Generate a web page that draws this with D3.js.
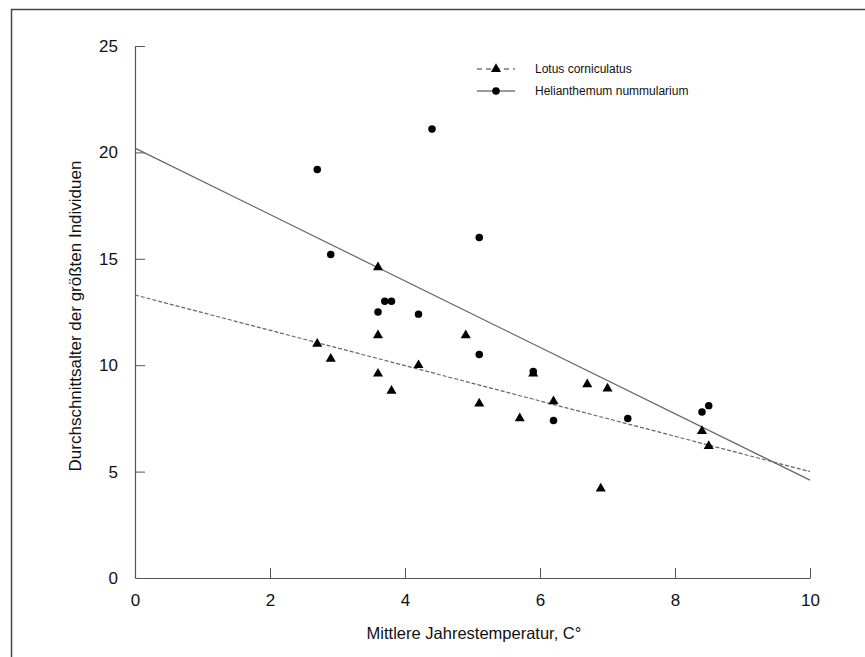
<!DOCTYPE html>
<html><head><meta charset="utf-8">
<script src="https://cdn.jsdelivr.net/npm/d3@7"></script>
<style>
html,body{margin:0;padding:0;background:#fff;}
svg{display:block;font-family:"Liberation Sans",Arial,sans-serif;}
</style></head>
<body><svg id="c" width="865" height="657"></svg>
<script>
// Data
const lotusX = [2.7, 2.9, 3.6, 3.6, 3.6, 3.8, 4.2, 4.9, 5.1, 5.7, 5.9, 6.2, 6.7, 6.9, 7.0, 8.4, 8.5];
const lotusY = [11.0, 10.3, 14.6, 11.4, 9.6, 8.8, 10.0, 11.4, 8.2, 7.5, 9.6, 8.3, 9.1, 4.2, 8.9, 6.9, 6.2];
const heliX = [2.7, 2.9, 3.6, 3.7, 3.8, 4.2, 4.4, 5.1, 5.1, 5.9, 6.2, 7.3, 8.4, 8.5];
const heliY = [19.2, 15.2, 12.5, 13.0, 13.0, 12.4, 21.1, 16.0, 10.5, 9.7, 7.4, 7.5, 7.8, 8.1];
const fitX = [0, 10];
const lotusFit = [13.3, 5.0];
const heliFit = [20.2, 4.6];
const xTicks = [0, 2, 4, 6, 8, 10];
const yTicks = [0, 5, 10, 15, 20, 25];
const seriesNames = ["Lotus corniculatus", "Helianthemum nummularium"];
const xTitle = "Mittlere Jahrestemperatur, C°";
const yTitle = "Durchschnittsalter der größten Individuen";

const svg = d3.select("#c");
// outer frame (extends beyond right/bottom)
svg.append("rect").attr("x", 11.5).attr("y", 9.5).attr("width", 900).attr("height", 700)
  .attr("fill", "none").attr("stroke", "#444").attr("stroke-width", 1.5);

const x = d3.scaleLinear().domain([0, 10]).range([135, 810]);
const y = d3.scaleLinear().domain([0, 25]).range([578, 46]);
const axisCol = "#555";

const gx = svg.append("g").attr("transform", "translate(0,578)")
  .call(d3.axisBottom(x).tickValues(xTicks).tickFormat(d3.format("d")).tickSizeInner(-10).tickSizeOuter(0).tickPadding(16));
const gy = svg.append("g").attr("transform", "translate(135,0)")
  .call(d3.axisLeft(y).tickValues(yTicks).tickFormat(d3.format("d")).tickSizeInner(-10).tickSizeOuter(0).tickPadding(17));
[gx, gy].forEach(g => {
  g.select(".domain").attr("stroke", axisCol).attr("stroke-width", 1.2);
  g.selectAll(".tick line").attr("stroke", axisCol).attr("stroke-width", 1);
  g.selectAll(".tick text").attr("fill", "#111").attr("font-size", 17).attr("font-family", "'Liberation Sans',Arial,sans-serif");
});
gx.selectAll(".tick").filter(d => d === 0).select("line").remove();
gy.selectAll(".tick").filter(d => d === 0).select("line").remove();

svg.append("text").attr("x", 474).attr("y", 639).attr("text-anchor", "middle")
  .attr("font-size", 16.5).attr("fill", "#111").text(xTitle);
svg.append("text").attr("transform", "translate(81,316) rotate(-90)").attr("text-anchor", "middle")
  .attr("font-size", 17).attr("fill", "#111").text(yTitle);

// fit lines
const line = d3.line().x(d => x(d[0])).y(d => y(d[1]));
svg.append("path").datum(fitX.map((v, i) => [v, lotusFit[i]])).attr("d", line)
  .attr("fill", "none").attr("stroke", "#666").attr("stroke-width", 1.2).attr("stroke-dasharray", "4,2");
svg.append("path").datum(fitX.map((v, i) => [v, heliFit[i]])).attr("d", line)
  .attr("fill", "none").attr("stroke", "#666").attr("stroke-width", 1.2);

const tri = d3.symbol().type(d3.symbolTriangle).size(44);
const circ = d3.symbol().type(d3.symbolCircle).size(44);

svg.append("g").selectAll("path").data(heliX.map((v, i) => [v, heliY[i]])).join("path")
  .attr("d", circ).attr("transform", d => `translate(${x(d[0])},${y(d[1])})`).attr("fill", "#000");
svg.append("g").selectAll("path").data(lotusX.map((v, i) => [v, lotusY[i]])).join("path")
  .attr("d", tri).attr("transform", d => `translate(${x(d[0])},${y(d[1])})`).attr("fill", "#000");

// legend
const leg = svg.append("g");
const rows = [{name: seriesNames[0], dash: "5,4", sym: tri, yy: 69},
              {name: seriesNames[1], dash: null, sym: circ, yy: 91}];
rows.forEach(r => {
  leg.append("line").attr("x1", 477).attr("x2", 515).attr("y1", r.yy).attr("y2", r.yy)
    .attr("stroke", "#333").attr("stroke-width", 1.2).attr("stroke-dasharray", r.dash);
  leg.append("path").attr("d", r.sym).attr("transform", `translate(496,${r.yy})`).attr("fill", "#000");
  leg.append("text").attr("x", 535).attr("y", r.yy + 4).attr("font-size", 12).attr("fill", "#111").text(r.name);
});
</script></body></html>
